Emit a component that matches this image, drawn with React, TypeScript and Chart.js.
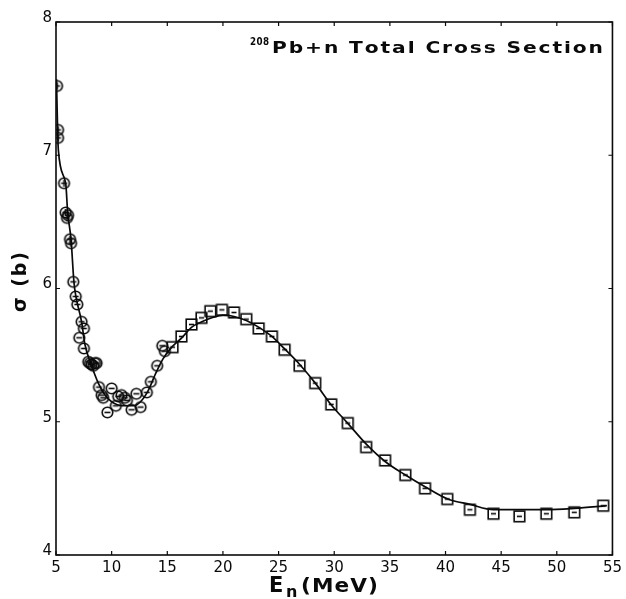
import React, { useEffect, useRef } from 'react';
import { Chart, registerables } from 'chart.js';

Chart.register(...registerables);

// Circles with vertical error bar (low energy)
const circlePlusE = [5.09, 5.18, 5.18, 5.72, 5.87, 6.08, 5.99, 6.26, 6.35];
const circlePlusS = [7.52, 7.19, 7.13, 6.79, 6.57, 6.55, 6.53, 6.37, 6.34];

// Circles with horizontal dash
const circleMinusE = [6.55, 6.77, 6.91, 7.30, 7.51, 7.09, 7.51, 7.90, 8.05, 8.20, 8.35, 8.50, 8.65, 8.86, 9.10, 9.24, 9.62, 10.00, 10.38, 10.59, 10.89, 11.19, 11.37, 11.79, 12.22, 12.60, 13.16, 13.52, 14.09, 14.55, 14.78];
const circleMinusS = [6.05, 5.94, 5.88, 5.75, 5.70, 5.63, 5.55, 5.45, 5.44, 5.43, 5.42, 5.44, 5.44, 5.26, 5.20, 5.18, 5.07, 5.25, 5.12, 5.19, 5.20, 5.18, 5.16, 5.09, 5.21, 5.11, 5.22, 5.30, 5.42, 5.57, 5.53];

// Squares
const squareE = [15.47, 16.27, 17.17, 18.07, 18.87, 19.91, 20.99, 22.10, 23.21, 24.40, 25.54, 26.88, 28.29, 29.73, 31.22, 32.87, 34.57, 36.39, 38.16, 40.16, 42.19, 44.31, 46.64, 49.06, 51.57, 54.17];
const squareS = [5.56, 5.64, 5.73, 5.78, 5.83, 5.84, 5.82, 5.77, 5.70, 5.64, 5.54, 5.42, 5.29, 5.13, 4.99, 4.81, 4.71, 4.60, 4.50, 4.42, 4.34, 4.31, 4.29, 4.31, 4.32, 4.37];

// Fitted curve
const curveE = [5.04, 5.21, 5.87, 6.05, 6.35, 6.61, 6.79, 7.30, 7.60, 8.20, 8.80, 9.40, 10.0, 11.0, 12.0, 12.6, 13.2, 14.0, 14.6, 15.4, 16.3, 17.2, 18.1, 19.0, 20.0, 21.0, 22.1, 23.2, 24.4, 25.5, 26.9, 28.3, 29.7, 31.2, 32.9, 34.6, 36.4, 38.2, 40.2, 42.2, 44.3, 46.6, 49.0, 51.6, 54.5];
const curveS = [7.57, 7.04, 6.79, 6.57, 6.37, 6.05, 5.94, 5.75, 5.58, 5.42, 5.29, 5.20, 5.15, 5.12, 5.12, 5.15, 5.22, 5.37, 5.47, 5.56, 5.63, 5.71, 5.75, 5.78, 5.80, 5.79, 5.76, 5.71, 5.64, 5.55, 5.43, 5.29, 5.13, 4.99, 4.83, 4.70, 4.60, 4.51, 4.42, 4.38, 4.34, 4.34, 4.34, 4.35, 4.37];

const xTicks = [5, 10, 15, 20, 25, 30, 35, 40, 45, 50, 55];
const yTicks = [4, 5, 6, 7, 8];

const INK = '#0a0a0a';

function makeMarker(kind: 'plus' | 'minus' | 'square'): HTMLCanvasElement {
  const c = document.createElement('canvas');
  const s = 15;
  c.width = s;
  c.height = s;
  const g = c.getContext('2d')!;
  g.strokeStyle = INK;
  g.lineWidth = 1.6;
  const m = s / 2;
  if (kind === 'square') {
    g.strokeRect(m - 5.3, m - 5.3, 10.6, 10.6);
    g.beginPath();
    g.moveTo(m - 2.5, m);
    g.lineTo(m + 2.5, m);
    g.stroke();
  } else {
    g.beginPath();
    g.arc(m, m, 5.3, 0, Math.PI * 2);
    g.stroke();
    g.beginPath();
    g.moveTo(m - 3, m);
    g.lineTo(m + 3, m);
    if (kind === 'plus') {
      g.moveTo(m, m - 3.5);
      g.lineTo(m, m + 3.5);
    }
    g.stroke();
  }
  return c;
}

// Draws text with a small letter spacing, stretched horizontally to fill target width
function drawStretched(ctx: CanvasRenderingContext2D, text: string, x: number, y: number, target: number, spacing = 1): void {
  const chars = Array.from(text);
  const widths = chars.map((ch) => ctx.measureText(ch).width);
  const natural = widths.reduce((s, w) => s + w, 0) + spacing * (chars.length - 1);
  const k = target / natural;
  ctx.save();
  ctx.translate(x, y);
  ctx.scale(k, 1);
  let cx = 0;
  chars.forEach((ch, i) => {
    ctx.fillText(ch, cx, 0);
    cx += widths[i] + spacing;
  });
  ctx.restore();
}

const decorPlugin = {
  id: 'decor',
  afterDraw(chart: any) {
    const { ctx, chartArea: a, scales } = chart;
    ctx.save();
    ctx.strokeStyle = INK;
    ctx.lineWidth = 1.6;
    ctx.strokeRect(a.left, a.top, a.right - a.left, a.bottom - a.top);
    ctx.lineWidth = 1.2;
    ctx.beginPath();
    for (const v of xTicks) {
      const px = scales.x.getPixelForValue(v);
      ctx.moveTo(px, a.bottom);
      ctx.lineTo(px, a.bottom - 4);
      ctx.moveTo(px, a.top);
      ctx.lineTo(px, a.top + 4);
    }
    for (const v of yTicks) {
      const py = scales.y.getPixelForValue(v);
      ctx.moveTo(a.left, py);
      ctx.lineTo(a.left + 4, py);
      ctx.moveTo(a.right, py);
      ctx.lineTo(a.right - 4, py);
    }
    ctx.stroke();

    ctx.fillStyle = INK;
    ctx.textAlign = 'left';
    ctx.textBaseline = 'alphabetic';
    // Title
    ctx.font = 'bold 11px "DejaVu Sans"';
    drawStretched(ctx, '208', 250, 45, 19, 0.5);
    ctx.font = 'bold 16px "DejaVu Sans"';
    drawStretched(ctx, 'Pb+n Total Cross Section', 272, 53, 331, 1.5);

    // X axis title
    ctx.font = 'bold 21px "DejaVu Sans"';
    ctx.fillText('E', 269, 592);
    ctx.font = 'bold 16px "DejaVu Sans"';
    ctx.fillText('n', 286, 597);
    ctx.font = 'bold 20px "DejaVu Sans"';
    drawStretched(ctx, '(MeV)', 301, 592, 77, 1);

    // Y axis title
    ctx.save();
    ctx.translate(21, 282);
    ctx.rotate(-Math.PI / 2);
    ctx.font = 'bold 20px "DejaVu Sans"';
    ctx.textBaseline = 'middle';
    drawStretched(ctx, 'σ (b)', -30, 0, 60, 2);
    ctx.restore();

    ctx.restore();
  },
};

export default function App() {
  const ref = useRef<HTMLCanvasElement | null>(null);

  useEffect(() => {
    if (!ref.current) return;
    const plus = makeMarker('plus');
    const minus = makeMarker('minus');
    const square = makeMarker('square');
    const toPts = (xs: number[], ys: number[]) => xs.map((x, i) => ({ x, y: ys[i] }));

    const chart = new Chart(ref.current, {
      type: 'scatter',
      data: {
        datasets: [
          {
            type: 'line',
            data: toPts(curveE, curveS),
            borderColor: INK,
            borderWidth: 1.7,
            pointRadius: 0,
            cubicInterpolationMode: 'monotone',
            fill: false,
            order: 1,
          } as any,
          {
            data: toPts(circlePlusE, circlePlusS),
            pointStyle: plus,
            pointRadius: 6,
            showLine: false,
            order: 0,
          } as any,
          {
            data: toPts(circleMinusE, circleMinusS),
            pointStyle: minus,
            pointRadius: 6,
            showLine: false,
            order: 0,
          } as any,
          {
            data: toPts(squareE, squareS),
            pointStyle: square,
            pointRadius: 6,
            showLine: false,
            order: 0,
          } as any,
        ],
      },
      options: {
        animation: false,
        responsive: false,
        devicePixelRatio: 1,
        layout: { padding: { left: 0, top: 22, right: 13, bottom: 0 } },
        plugins: { legend: { display: false }, tooltip: { enabled: false }, title: { display: false } },
        scales: {
          x: {
            type: 'linear',
            min: 5,
            max: 55,
            afterFit: (s: any) => {
              s.height = 44;
            },
            afterBuildTicks: (s: any) => {
              s.ticks = xTicks.map((v) => ({ value: v }));
            },
            grid: { display: false, drawTicks: false },
            border: { display: false },
            ticks: {
              color: INK,
              padding: 4,
              maxRotation: 0,
              autoSkip: false,
              font: { family: 'DejaVu Sans', size: 15 },
            },
          },
          y: {
            type: 'linear',
            min: 4,
            max: 8,
            afterFit: (s: any) => {
              s.width = 56;
            },
            afterBuildTicks: (s: any) => {
              s.ticks = yTicks.map((v) => ({ value: v }));
            },
            grid: { display: false, drawTicks: false },
            border: { display: false },
            ticks: {
              color: INK,
              padding: 4,
              labelOffset: -4,
              autoSkip: false,
              font: { family: 'DejaVu Sans', size: 15 },
            },
          },
        },
      } as any,
      plugins: [decorPlugin],
    });
    return () => chart.destroy();
  }, []);

  return (
    <div style={{ position: 'absolute', left: 0, top: 0, width: 626, height: 599, background: '#fff' }}>
      <canvas ref={ref} width={626} height={599} style={{ display: 'block' }} />
    </div>
  );
}
